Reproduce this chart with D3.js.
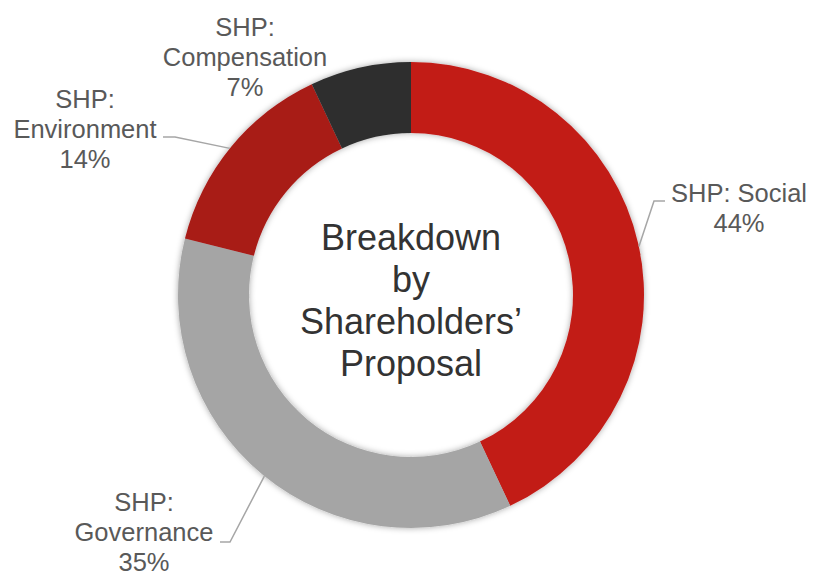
<!DOCTYPE html>
<html>
<head>
<meta charset="utf-8">
<script src="https://cdn.jsdelivr.net/npm/d3@7"></script>
<style>
  html, body { margin: 0; padding: 0; background: #ffffff; }
  svg { display: block; font-family: "Liberation Sans", Arial, sans-serif; }
</style>
</head>
<body>
<svg id="chart" width="814" height="579"></svg>
<script>
// Data
const categories = ["SHP: Social", "SHP: Governance", "SHP: Environment", "SHP: Compensation"];
const values = [43.0, 35.9, 14.1, 7.0];
const percentLabels = ["44%", "35%", "14%", "7%"];
const colors = ["#C21B18", "#A5A5A5", "#A81A17", "#2E2E2E"];
const labelLines = [["SHP: Social", "44%"], ["SHP:", "Governance", "35%"], ["SHP:", "Environment", "14%"], ["SHP:", "Compensation", "7%"]];
const centerTitle = ["Breakdown", "by", "Shareholders\u2019", "Proposal"];

const svg = d3.select("#chart");
const cx = 411, cy = 295, R = 233, r = 162;

const defs = svg.append("defs");
const f = defs.append("filter").attr("id", "shadow").attr("x", "-20%").attr("y", "-20%").attr("width", "140%").attr("height", "140%");
f.append("feDropShadow").attr("dx", 0).attr("dy", 0).attr("stdDeviation", 3)
  .attr("flood-color", "#000").attr("flood-opacity", 0.35);

const pie = d3.pie().sort(null).value(d => d)(values);
const arc = d3.arc().innerRadius(r).outerRadius(R);

const g = svg.append("g").attr("transform", `translate(${cx},${cy})`).attr("filter", "url(#shadow)");
g.selectAll("path").data(pie).join("path")
  .attr("d", arc)
  .attr("fill", (d, i) => colors[i]);

// Leader lines: anchor on outer edge at a given angle
const lineColor = "#A6A6A6";
function edgePoint(angleDeg) {
  const a = angleDeg * Math.PI / 180;
  return [cx + R * Math.sin(a), cy - R * Math.cos(a)];
}
const leaders = [
  { idx: 0, pts: [[665, 201], [654, 201]], angle: 78 },
  { idx: 1, pts: [[220, 542], [230, 542]], angle: 219 },
  { idx: 2, pts: [[163, 137], [175, 137]], angle: 309 }
];
leaders.forEach(l => {
  const p = edgePoint(l.angle);
  svg.append("polyline")
    .attr("points", [...l.pts, p].map(q => q.join(",")).join(" "))
    .attr("fill", "none").attr("stroke", lineColor).attr("stroke-width", 1.5);
});

// Labels
const labelPos = [
  { x: 739, y: 202 },
  { x: 144, y: 511 },
  { x: 85, y: 108 },
  { x: 245, y: 36 }
];
const lh = 30;
labelLines.forEach((lines, i) => {
  const t = svg.append("text")
    .attr("text-anchor", "middle")
    .attr("fill", "#595959")
    .style("font-size", "25.5px");
  lines.forEach((s, j) => {
    t.append("tspan").attr("x", labelPos[i].x).attr("y", labelPos[i].y + j * lh).text(s);
  });
});

// Center title
const ct = svg.append("text").attr("text-anchor", "middle").attr("fill", "#333333").style("font-size", "36px");
centerTitle.forEach((s, j) => {
  ct.append("tspan").attr("x", cx).attr("y", 250 + j * 42).text(s);
});
</script>
</body>
</html>
